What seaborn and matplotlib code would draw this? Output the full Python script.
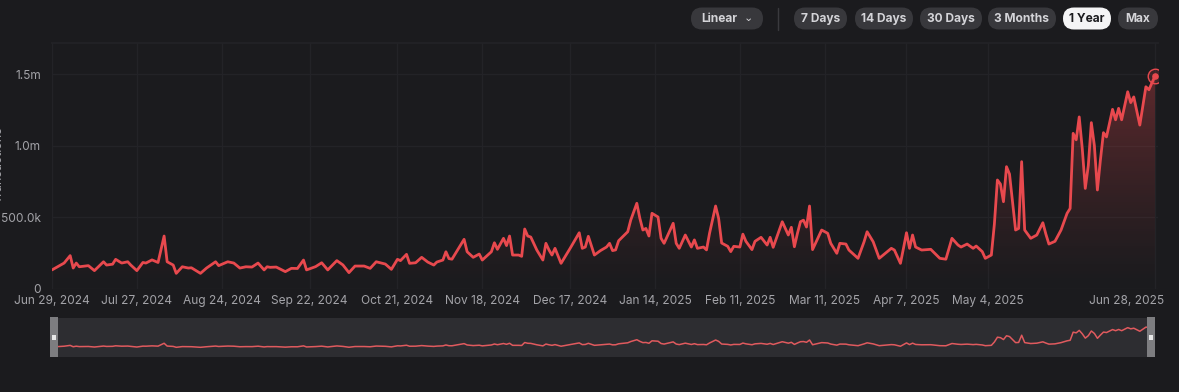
import numpy as np
import pandas as pd
import matplotlib.pyplot as plt
import seaborn as sns
from matplotlib.patches import FancyBboxPatch, Rectangle, Polygon
from matplotlib.transforms import ScaledTranslation
import matplotlib.dates as mdates

# Daily transactions, last year (in thousands)
START = pd.Timestamp("2024-06-29")
day_offset = [0, 4, 6, 7, 8, 9, 12, 14, 17, 18, 20, 21, 23, 25, 26, 28, 30, 31, 33, 35,
              37, 38, 40, 41, 43, 45, 46, 49, 51, 54, 55, 58, 60, 62, 64, 66, 68, 70, 71, 72,
              74, 77, 79, 81, 83, 84, 87, 89, 91, 94, 96, 98, 100, 103, 105, 107, 110, 112, 114, 115,
              117, 118, 120, 122, 124, 126, 127, 129, 130, 131, 132, 134, 136, 137, 139, 141, 142, 145, 146, 147,
              149, 150, 151, 152, 154, 155, 156, 157, 158, 160, 162, 163, 164, 165, 166, 168, 171, 174, 175, 176,
              177, 179, 181, 183, 184, 185, 186, 187, 190, 191, 193, 194, 195, 196, 197, 198, 200, 201, 202, 205,
              206, 207, 209, 211, 212, 213, 215, 216, 217, 219, 220, 221, 223, 224, 225, 227, 228, 229, 231, 232,
              234, 236, 237, 238, 241, 243, 244, 245, 246, 247, 248, 249, 250, 251, 254, 256, 257, 259, 260, 262,
              263, 266, 268, 269, 271, 273, 277, 278, 280, 281, 282, 283, 284, 285, 287, 290, 293, 295, 297, 299,
              300, 302, 304, 305, 307, 308, 310, 311, 312, 313, 314, 315, 316, 318, 319, 320, 321, 323, 325, 327,
              328, 329, 331, 333, 335, 336, 337, 338, 339, 340, 341, 342, 343, 344, 345, 346, 347, 348, 350, 351,
              352, 353, 355, 356, 357, 359, 361, 362, 364]
tx_k = [130, 178, 230, 143, 178, 152, 160, 125, 187, 164, 170, 204, 178, 187, 164, 125, 182, 178, 200, 182,
        367, 187, 164, 106, 152, 143, 145, 106, 143, 187, 160, 187, 178, 143, 152, 150, 178, 130, 152, 148,
        150, 118, 141, 140, 199, 130, 153, 180, 130, 195, 165, 111, 157, 157, 141, 187, 171, 134, 204, 195,
        239, 176, 180, 218, 185, 164, 185, 199, 257, 209, 205, 274, 344, 257, 218, 241, 199, 257, 320, 274,
        351, 300, 367, 234, 234, 225, 416, 367, 360, 269, 199, 316, 270, 234, 281, 176, 281, 390, 281, 290,
        365, 234, 265, 290, 316, 265, 270, 334, 397, 479, 596, 491, 409, 420, 367, 526, 500, 351, 316, 456,
        316, 281, 374, 290, 340, 281, 290, 270, 386, 577, 490, 318, 295, 258, 295, 290, 380, 330, 272, 330,
        358, 304, 358, 288, 467, 374, 428, 292, 385, 467, 478, 430, 577, 272, 409, 386, 316, 246, 316, 311,
        269, 211, 327, 397, 327, 211, 281, 269, 176, 281, 390, 281, 374, 290, 269, 274, 211, 205, 351, 304,
        290, 311, 281, 297, 258, 211, 234, 450, 759, 730, 607, 852, 800, 409, 420, 887, 409, 351, 374, 460,
        380, 311, 330, 409, 526, 560, 1085, 1040, 1200, 980, 700, 860, 1160, 1000, 689, 900, 1090, 1060, 1253, 1180,
        1260, 1180, 1376, 1300, 1340, 1143, 1411, 1390, 1486]

tick_dates = ["2024-06-29", "2024-07-27", "2024-08-24", "2024-09-22", "2024-10-21", "2024-11-18",
              "2024-12-17", "2025-01-14", "2025-02-11", "2025-03-11", "2025-04-07", "2025-05-04",
              "2025-06-28"]
y_ticks = [0, 500_000, 1_000_000, 1_500_000]
y_labels = ["0", "500.0k", "1.0m", "1.5m"]
range_buttons = ["7 Days", "14 Days", "30 Days", "3 Months", "1 Year", "Max"]
active_button = "1 Year"

df = pd.DataFrame({"date": START + pd.to_timedelta(day_offset, unit="D"),
                   "transactions": np.array(tx_k) * 1000.0})

BG = "#1b1b1e"
GRID = "#232327"
RED = "#e8494e"
TXT = "#a3a3a8"

sns.set_theme(style="dark", rc={"figure.facecolor": BG, "axes.facecolor": BG,
                                "savefig.facecolor": BG, "axes.edgecolor": GRID,
                                "grid.color": GRID, "text.color": TXT,
                                "xtick.color": TXT, "ytick.color": TXT})
plt.rcParams["font.family"] = ["Inter", "DejaVu Sans"]

fig = plt.figure(figsize=(11.79, 3.92), dpi=100)
W, H = 1179, 392

def fax(x0, y0, x1, y1):
    return fig.add_axes([x0 / W, 1 - y1 / H, (x1 - x0) / W, (y1 - y0) / H])

x_end = START + pd.Timedelta(days=365)

# ---- main chart
ax = fax(52, 43, 1158, 288.5)
ymax = 1_717_000
sns.lineplot(data=df, x="date", y="transactions", ax=ax, color=RED, lw=2.0, zorder=4,
             solid_joinstyle="round")
ax.set_xlim(START, x_end)
ax.set_ylim(0, ymax)

# gradient fill under the line
xs = mdates.date2num(df["date"])
poly = Polygon(np.column_stack([np.r_[xs[0], xs, xs[-1]], np.r_[0, df["transactions"], 0]]),
               closed=True, transform=ax.transData, fc="none", ec="none")
ax.add_patch(poly)
grad = np.zeros((256, 1, 4))
grad[..., 0], grad[..., 1], grad[..., 2] = 0.90, 0.28, 0.30
grad[:, 0, 3] = np.linspace(0.42, 0.0, 256) ** 1.2
img = ax.imshow(grad, aspect="auto", origin="upper",
                extent=[xs[0], xs[-1], 0, 1_500_000 * 1.05], zorder=2)
img.set_clip_path(poly)

# end marker
last = df.iloc[-1]
ax.scatter([last["date"]], [last["transactions"]], s=110, facecolor=(0.9, 0.28, 0.3, 0.18),
           edgecolor=RED, lw=1.0, zorder=5)
ax.scatter([last["date"]], [last["transactions"]], s=14, color=RED, zorder=6)

ax.set_xticks(pd.to_datetime(tick_dates))
ax.set_xticklabels([pd.Timestamp(d).strftime("%b %-d, %Y") for d in tick_dates])
ax.set_yticks(y_ticks)
ax.set_yticklabels(y_labels)
ax.tick_params(axis="x", labelsize=8.6, pad=4.5, length=0)
ax.tick_params(axis="y", labelsize=8.6, pad=8, length=0)
ax.grid(True, lw=0.9)
for s in ["left", "right", "bottom"]:
    ax.spines[s].set_visible(False)
ax.spines["top"].set_color(GRID)
ax.set_xlabel("")
ax.set_ylabel("")
# last date label is pulled left so it stays inside the figure
lbl = ax.get_xticklabels()[-1]
lbl.set_transform(lbl.get_transform() + ScaledTranslation(-28 / 100, 0, fig.dpi_scale_trans))
fig.text(-0.0015, 1 - 165 / H, "Transactions", rotation=90, ha="center", va="center",
         fontsize=9, color=TXT)

# ---- navigator
nav = fax(52, 318, 1155, 357)
nav.set_facecolor("#2d2d31")
sns.lineplot(data=df, x="date", y="transactions", ax=nav, color="#e05a5e", lw=1.1)
nav.set_xlim(START, START + pd.Timedelta(days=364))
nav.set_ylim(-520_000, 2_000_000)
nav.set_axis_off()
nav.add_patch(Rectangle((0, 0), 1, 1, transform=nav.transAxes, fc="#2d2d31", ec="none", zorder=0))

# ---- overlay for handles and buttons (pixel coordinates)
ov = fig.add_axes([0, 0, 1, 1], facecolor="none")
ov.set_xlim(0, W)
ov.set_ylim(H, 0)
ov.set_axis_off()
for hx in (50, 1147):
    ov.add_patch(Rectangle((hx, 317), 8, 40, fc="#7d7d80", ec="none"))
    ov.add_patch(Rectangle((hx + 2, 335), 4, 5, fc="#e8e8e8", ec="none"))

def rpill(x0, x1, label, fc, tc, dx=0):
    ov.add_patch(FancyBboxPatch((x0, 7.5), x1 - x0, 22,
                                boxstyle="round,pad=0,rounding_size=11",
                                fc=fc, ec="none"))
    ov.text((x0 + x1) / 2 + dx, 18.8, label, ha="center", va="center",
            fontsize=8.6, fontweight="bold", color=tc)

rpill(691, 763, "Linear", "#38383c", "#d4d4d8", dx=-8)
ov.text(748, 17.5, "⌄", ha="center", va="center", fontsize=8, color="#d4d4d8",
        family=["DejaVu Sans"])
ov.plot([778, 778], [8, 30], color="#3a3a3e", lw=1)
btn_x = [(794, 847), (855, 913), (920, 982), (988, 1056), (1063, 1111), (1118, 1158)]
for (x0, x1), name in zip(btn_x, range_buttons):
    if name == active_button:
        rpill(x0, x1, name, "#f4f4f5", "#1b1b1e")
    else:
        rpill(x0, x1, name, "#38383c", "#d4d4d8")

fig.savefig("out.png", dpi=100)
